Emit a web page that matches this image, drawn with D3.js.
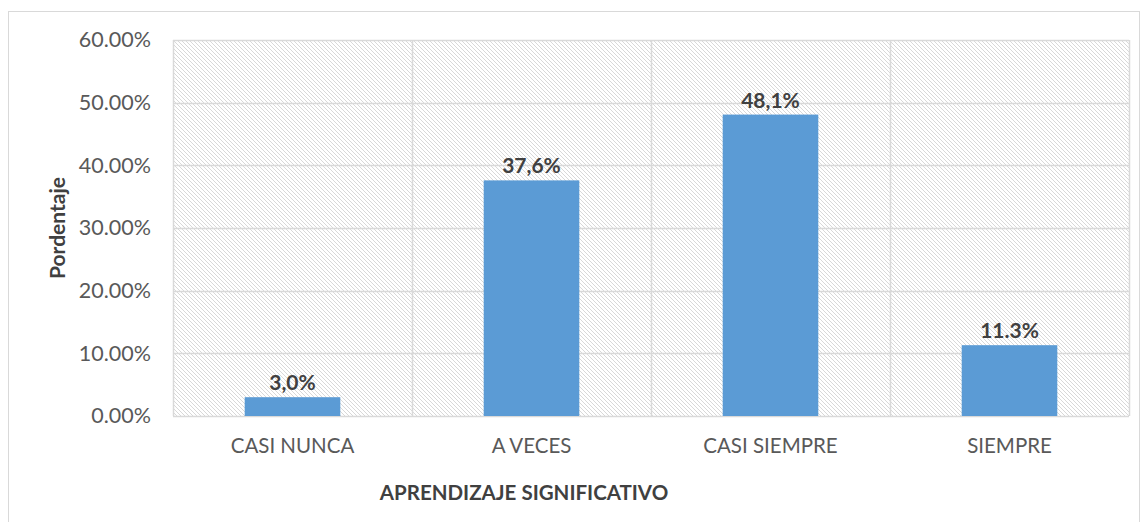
<html>
<head>
<style>
  body { margin: 0; background: #fff; font-family: Lato, "Open Sans", sans-serif; }
</style>
</head>
<body>
<div id="chart-holder"></div>
<script src="https://d3js.org/d3.v7.min.js"></script>
<script>
var categories = ['CASI NUNCA', 'A VECES', 'CASI SIEMPRE', 'SIEMPRE'];
var values = [3.0, 37.6, 48.1, 11.3];
var valueLabels = ['3,0%', '37,6%', '48,1%', '11.3%'];
var yTicks = [0, 10, 20, 30, 40, 50, 60];

var width = 1141, height = 522;
var margin = {top: 40, right: 12, bottom: 106, left: 173};
var innerWidth = width - margin.left - margin.right;
var innerHeight = height - margin.top - margin.bottom;

var svg = d3.select('#chart-holder').append('svg')
    .attr('width', width).attr('height', height);

// hatch pattern for plot background
var defs = svg.append('defs');
var pat = defs.append('pattern')
    .attr('id', 'hatch')
    .attr('patternUnits', 'userSpaceOnUse')
    .attr('width', 4).attr('height', 4);
pat.append('path')
    .attr('d', 'M-1,-1 L5,5 M-1,3 L1,5 M3,-1 L5,1')
    .attr('stroke', '#d4d4d4').attr('stroke-width', 0.9);

// chart frame
svg.append('rect')
    .attr('x', 8.5).attr('y', 11.5)
    .attr('width', 1131).attr('height', 530)
    .attr('fill', 'none').attr('stroke', '#d9d9d9');

var g = svg.append('g')
    .attr('transform', 'translate(' + margin.left + ',' + margin.top + ')');

var x = d3.scaleBand().domain(categories).range([0, innerWidth]).paddingInner(0.6).paddingOuter(0.3);
var xb = d3.scaleBand().domain(categories).range([0, innerWidth]);
var y = d3.scaleLinear().domain([0, 60]).range([innerHeight, 0]);

g.append('rect')
    .attr('width', innerWidth).attr('height', innerHeight)
    .attr('fill', 'url(#hatch)');

// horizontal gridlines
g.selectAll('.hgrid').data(yTicks).enter().append('line')
    .attr('class', 'hgrid')
    .attr('x1', 0).attr('x2', innerWidth)
    .attr('y1', function(d) { return Math.round(y(d)) + 0.5; })
    .attr('y2', function(d) { return Math.round(y(d)) + 0.5; })
    .attr('stroke', '#d9d9d9').attr('stroke-width', 1.5);

// vertical gridlines at category boundaries
var bounds = categories.map(function(c) { return xb(c); }).concat([innerWidth]);
g.selectAll('.vgrid').data(bounds).enter().append('line')
    .attr('class', 'vgrid')
    .attr('x1', function(d) { return Math.round(d) + 0.5; })
    .attr('x2', function(d) { return Math.round(d) + 0.5; })
    .attr('y1', 0).attr('y2', innerHeight)
    .attr('stroke', '#d9d9d9').attr('stroke-width', 1.5);

// y axis
var yAxis = d3.axisLeft(y).tickValues(yTicks).tickSize(0).tickPadding(22)
    .tickFormat(function(d) { return d.toFixed(2) + '%'; });
var ya = g.append('g').call(yAxis);
ya.select('.domain').remove();
ya.selectAll('text').attr('fill', '#595959').style('font-size', '21.5px').style('font-family', 'Lato');

// x axis
var xAxis = d3.axisBottom(xb).tickSize(0).tickPadding(22);
var xa = g.append('g').attr('transform', 'translate(0,' + innerHeight + ')').call(xAxis);
xa.select('.domain').remove();
xa.selectAll('text').attr('fill', '#595959').style('font-size', '20.5px').style('font-family', 'Lato');

// bars
g.selectAll('.bar').data(values).enter().append('rect')
    .attr('class', 'bar')
    .attr('x', function(d, i) { return x(categories[i]); })
    .attr('y', function(d) { return y(d); })
    .attr('width', x.bandwidth())
    .attr('height', function(d) { return innerHeight - y(d); })
    .attr('fill', '#5b9bd5');

// data labels
g.selectAll('.lbl').data(values).enter().append('text')
    .attr('class', 'lbl')
    .attr('x', function(d, i) { return x(categories[i]) + x.bandwidth() / 2; })
    .attr('y', function(d) { return y(d) - 7; })
    .attr('text-anchor', 'middle')
    .attr('fill', '#404040')
    .style('font-size', '21px').style('font-weight', 'bold')
    .text(function(d, i) { return valueLabels[i]; });

// axis titles
svg.append('text')
    .attr('x', 524).attr('y', 500)
    .attr('text-anchor', 'middle')
    .attr('fill', '#404040')
    .style('font-size', '20.5px').style('font-weight', 'bold')
    .text('APRENDIZAJE SIGNIFICATIVO');

svg.append('text')
    .attr('transform', 'translate(65,228) rotate(-90)')
    .attr('text-anchor', 'middle')
    .attr('fill', '#404040')
    .style('font-size', '21px').style('font-weight', 'bold')
    .text('Pordentaje');
</script>
</body>
</html>
